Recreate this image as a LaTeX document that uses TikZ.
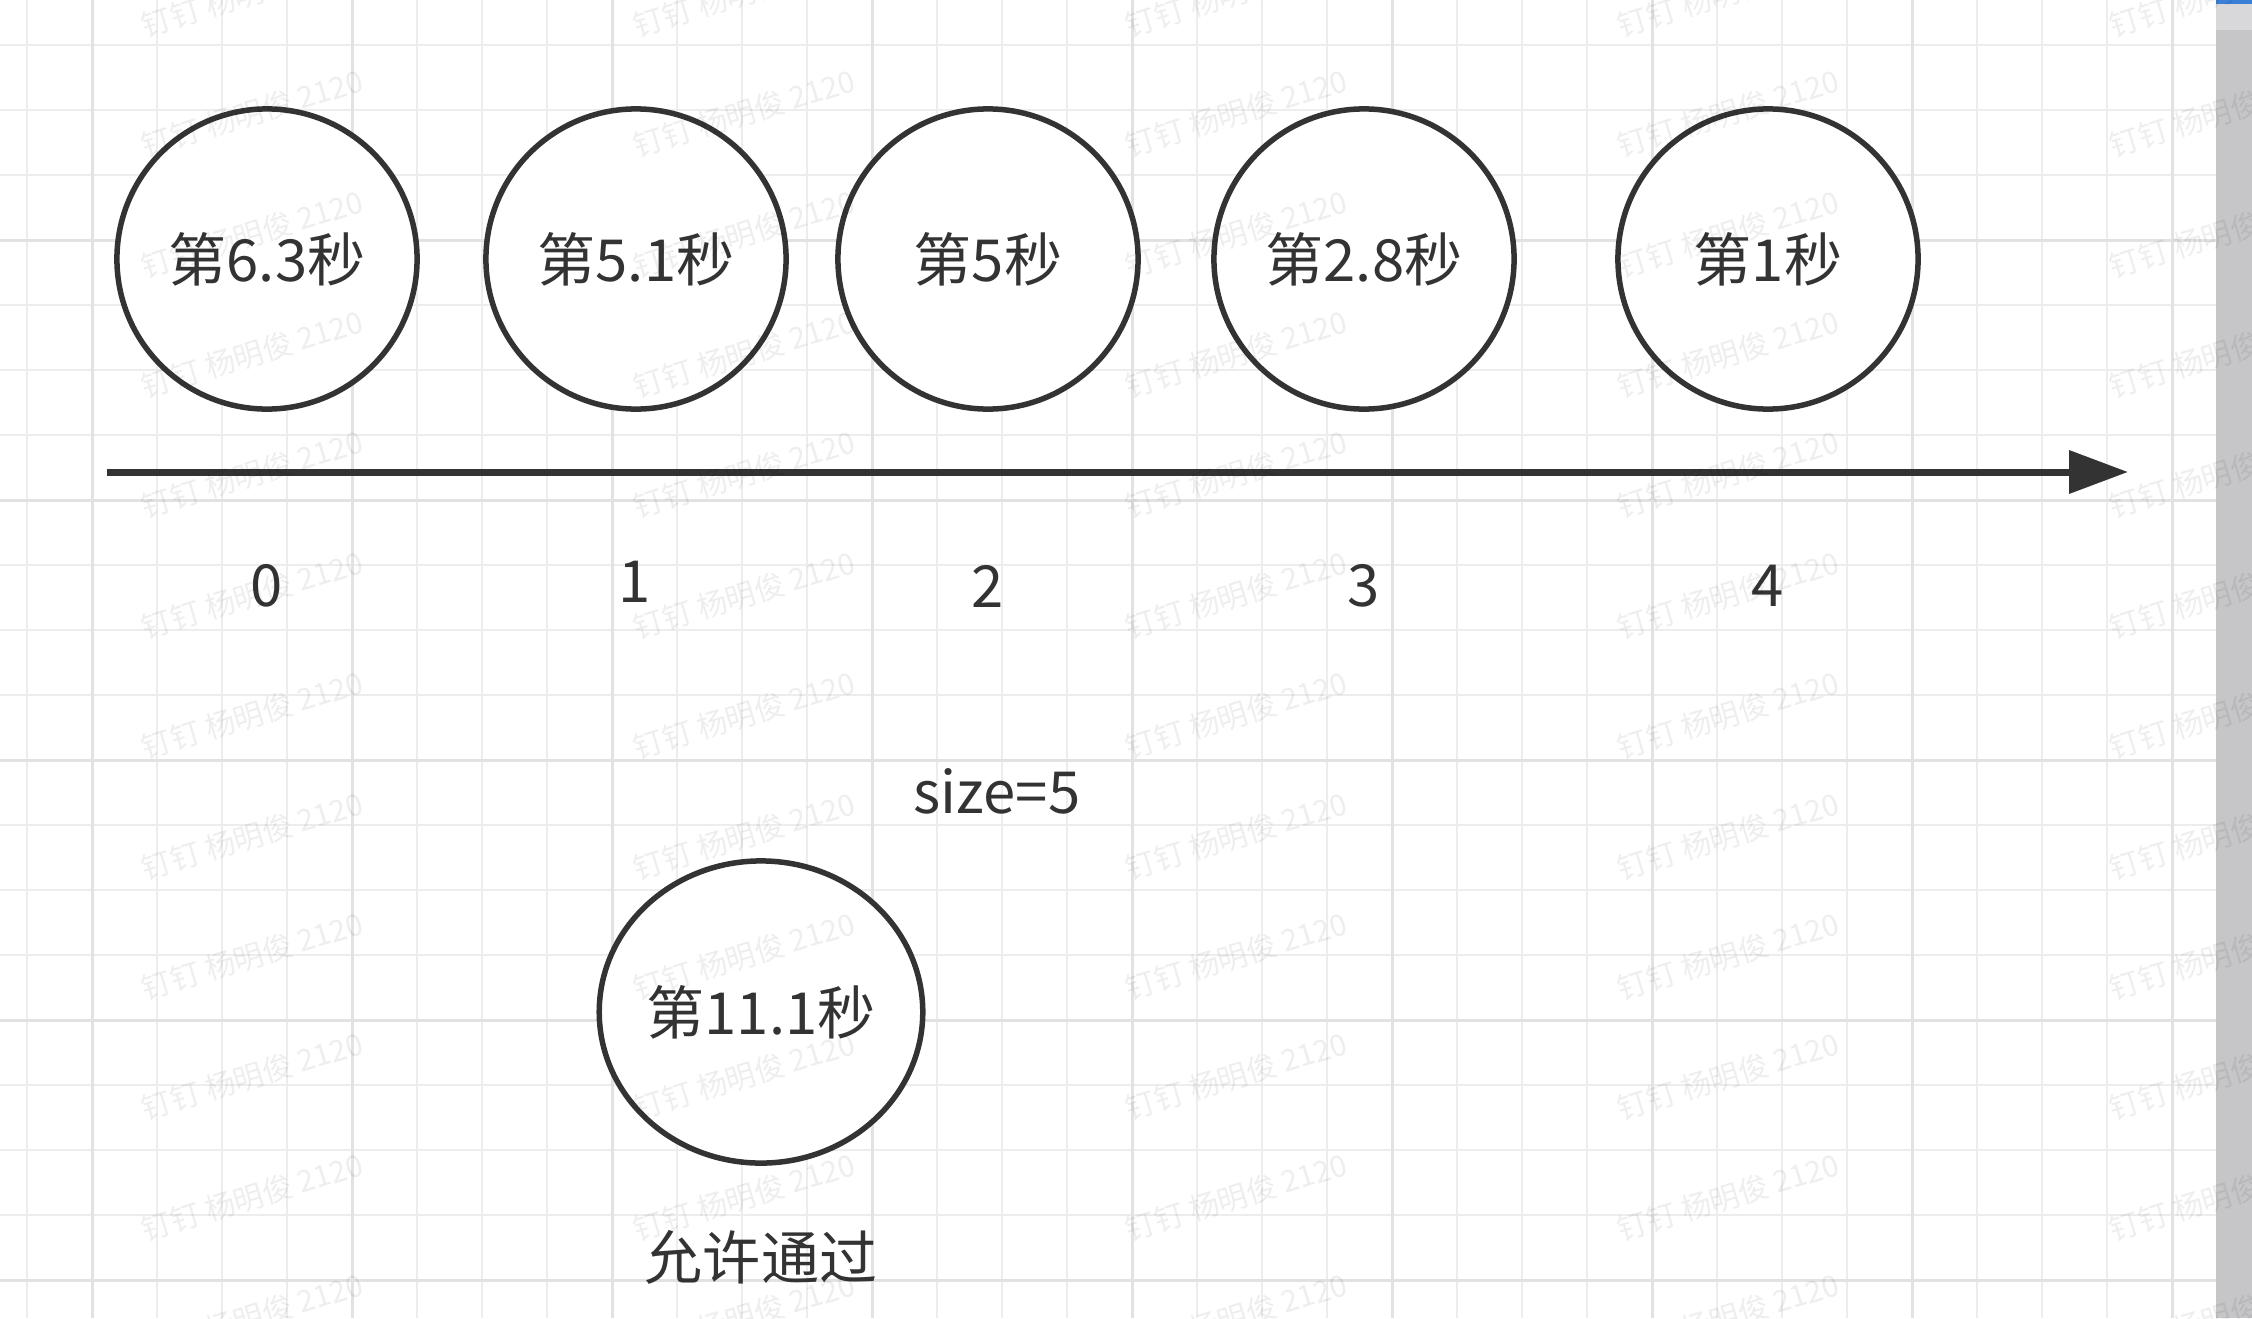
\documentclass[tikz,border=0pt]{standalone}
\usepackage{fontspec}
\setmainfont{Noto Sans CJK SC}
\usetikzlibrary{arrows.meta,shapes.geometric}
\definecolor{ink}{HTML}{333333}
\definecolor{gridminor}{HTML}{EDEDED}
\definecolor{gridmajor}{HTML}{E2E2E2}
\definecolor{barblue}{HTML}{3A7FD8}
\definecolor{barlight}{HTML}{D8D8DA}
\definecolor{bargrey}{HTML}{C6C6C8}
\begin{document}
\begin{tikzpicture}[x=0.01cm,y=-0.01cm,
  slot/.style={circle,draw=ink,line width=0.055cm,fill=white,minimum size=3.0cm,inner sep=0pt,text=ink,font=\fontsize{16.5}{19}\selectfont},
  passslot/.style={ellipse,draw=ink,line width=0.055cm,fill=white,minimum width=3.16cm,minimum height=3.02cm,inner sep=0pt,text=ink,font=\fontsize{16.5}{19}\selectfont},
  lbl/.style={text=ink,inner sep=0pt,font=\fontsize{16.5}{19}\selectfont},
  axisline/.style={draw=ink,line width=0.07cm,-{Triangle[length=0.59cm,width=0.42cm]}},
  gmin/.style={draw=gridminor,line width=0.025cm},
  gmaj/.style={draw=gridmajor,line width=0.03cm},
  wm/.style={rotate=17,text=black,opacity=0.065,inner sep=0pt,font=\fontsize{8.5}{10}\selectfont}]
\useasboundingbox (0,0) rectangle (2252,1318);
\fill[white] (0,0) rectangle (2252,1318);
% grid
\foreach \i in {0,...,33} {\draw[gmin] ({27+65*\i},0) -- ({27+65*\i},1318);}
\foreach \j in {0,...,19} {\draw[gmin] (0,{45+65*\j}) -- (2216,{45+65*\j});}
\foreach \i in {0,...,8} {\draw[gmaj] ({92+260*\i},0) -- ({92+260*\i},1318);}
\foreach \j in {0,...,4} {\draw[gmaj] (0,{240+260*\j}) -- (2216,{240+260*\j});}
% right side bar
\fill[bargrey] (2216,0) rectangle (2252,1318);
\fill[barlight] (2216,4) rectangle (2252,30);
\fill[barblue] (2216,0) rectangle (2252,4);
% queue slots
\node[slot] (s0) at (267,259) {第6.3秒};
\node[slot] (s1) at (636,259) {第5.1秒};
\node[slot] (s2) at (988,259) {第5秒};
\node[slot] (s3) at (1364,259) {第2.8秒};
\node[slot] (s4) at (1768,259) {第1秒};
% axis
\coordinate (axL) at (107,472);
\coordinate (axR) at (2128,472);
\draw[axisline] (axL) -- (axR);
% index labels
\node[lbl] (n0) at (267,586) {0};
\node[lbl] (n1) at (635,582) {1};
\node[lbl] (n2) at (988,586) {2};
\node[lbl] (n3) at (1364,586) {3};
\node[lbl] (n4) at (1768,586) {4};
\node[lbl] (size) at (997,791) {size=5};
% new request
\node[passslot] (req) at (761,1012) {第11.1秒};
\node[lbl] (pass) at (761,1257) {允许通过};
% watermark
\foreach \cx in {252,744,1236,1728,2220} {
  \foreach \cy in {-7,113,234,354,474,595,715,836,956,1076,1197,1317} {
    \node[wm] (wm-\cx-\cy) at (\cx,\cy) {钉钉 杨明俊 2120};
  }
}
\end{tikzpicture}
\end{document}
